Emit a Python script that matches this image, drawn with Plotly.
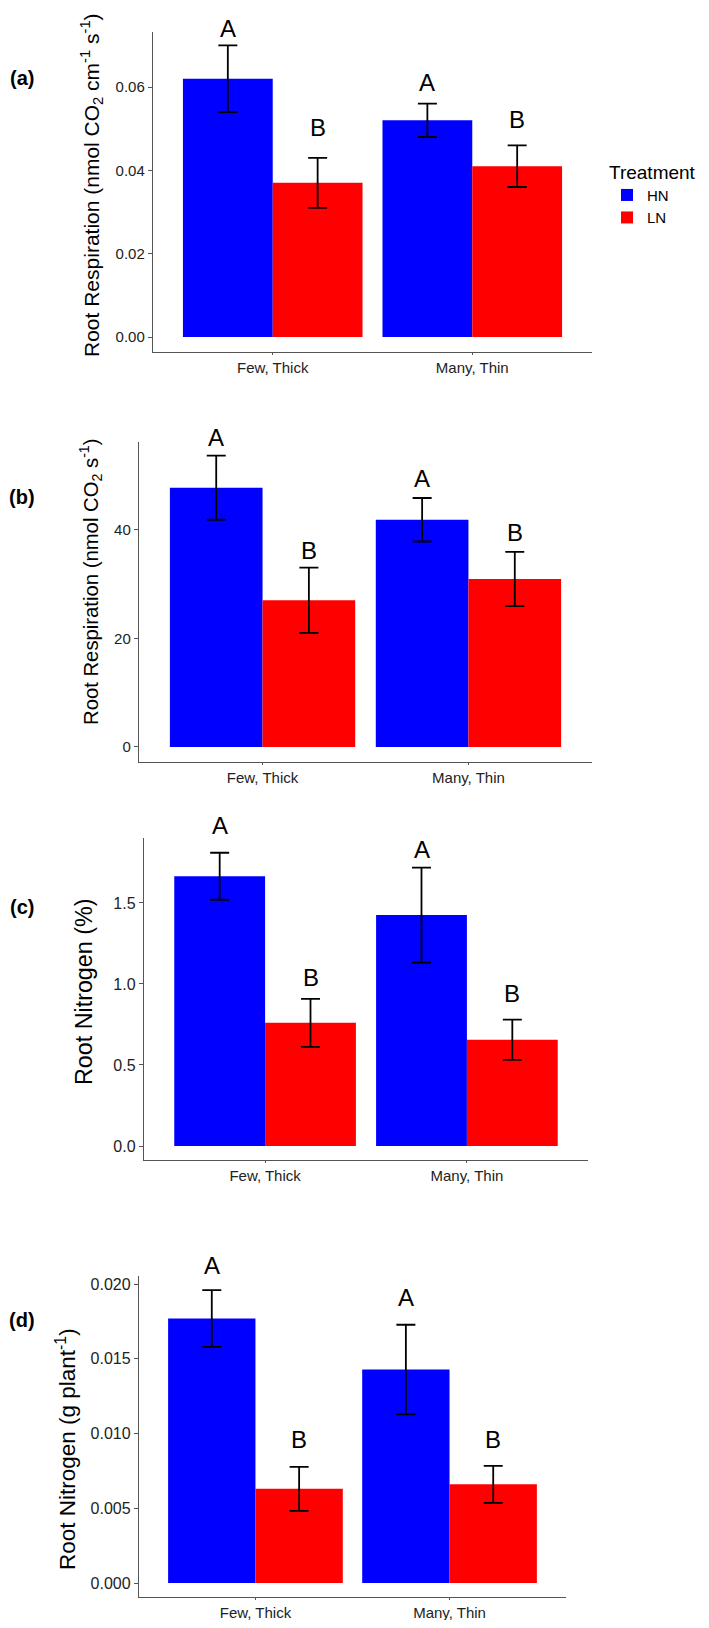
import plotly.graph_objects as go

# ---------------- data ----------------
categories = ["Few, Thick", "Many, Thin"]
treatments = ["HN", "LN"]
colors = {"HN": "#0000FF", "LN": "#FF0000"}

# (a) Root respiration per cm
a_hn = [0.062, 0.052]
a_hn_se = [0.008, 0.004]
a_ln = [0.037, 0.041]
a_ln_se = [0.006, 0.005]
a_let_hn = ["A", "A"]
a_let_ln = ["B", "B"]
a_let_hn_y = [0.0741, 0.0610]
a_let_ln_y = [0.0502, 0.0521]
a_ticks = [0.00, 0.02, 0.04, 0.06]

# (b) Root respiration
b_hn = [47.7, 41.8]
b_hn_se = [5.9, 4.0]
b_ln = [27.0, 30.9]
b_ln_se = [6.0, 5.0]
b_let_hn = ["A", "A"]
b_let_ln = ["B", "B"]
b_let_hn_y = [56.9, 49.3]
b_let_ln_y = [36.2, 39.4]
b_ticks = [0, 20, 40]

# (c) Root nitrogen %
c_hn = [1.665, 1.425]
c_hn_se = [0.145, 0.293]
c_ln = [0.76, 0.656]
c_ln_se = [0.148, 0.124]
c_let_hn = ["A", "A"]
c_let_ln = ["B", "B"]
c_let_hn_y = [1.98, 1.827]
c_let_ln_y = [1.037, 0.944]
c_ticks = [0.0, 0.5, 1.0, 1.5]

# (d) Root nitrogen per plant
d_hn = [0.0177, 0.01428]
d_hn_se = [0.0019, 0.0030]
d_ln = [0.0063, 0.0066]
d_ln_se = [0.00147, 0.00124]
d_let_hn = ["A", "A"]
d_let_ln = ["B", "B"]
d_let_hn_y = [0.02127, 0.01913]
d_let_ln_y = [0.00957, 0.00957]
d_ticks = [0.000, 0.005, 0.010, 0.015, 0.020]

panel_labels = ["(a)", "(b)", "(c)", "(d)"]
y_titles = [
    "Root Respiration (nmol CO<sub>2</sub> cm<sup>-1</sup> s<sup>-1</sup>)",
    "Root Respiration (nmol CO<sub>2</sub> s<sup>-1</sup>)",
    "Root Nitrogen (%)",
    "Root Nitrogen (g plant<sup>-1</sup>)",
]

# ---------------- layout geometry ----------------
# the page body has an 8px margin; figure is sized to fit inside the window
OFF = 8
FW, FH = 701, 1612
FONT = "Liberation Sans, Arial, sans-serif"


def px_x(X):
    return (X - OFF) / FW


def px_y(Y):
    return 1 - (Y - OFF) / FH


panels = [
    dict(hn=a_hn, hn_se=a_hn_se, ln=a_ln, ln_se=a_ln_se,
         lh=a_let_hn, ll=a_let_ln, lhy=a_let_hn_y, lly=a_let_ln_y,
         ticks=a_ticks, fmt="{:.2f}", x_px=(153, 592), y_px=(32, 352),
         yr=(-0.0036, 0.0732), title_xy=(92, 185), title_size=21,
         lab_y=78, tick_size=15),
    dict(hn=b_hn, hn_se=b_hn_se, ln=b_ln, ln_se=b_ln_se,
         lh=b_let_hn, ll=b_let_ln, lhy=b_let_hn_y, lly=b_let_ln_y,
         ticks=b_ticks, fmt="{:.0f}", x_px=(139, 592), y_px=(442, 762),
         yr=(-2.76, 56.1), title_xy=(90, 582), title_size=20.3,
         lab_y=497, tick_size=15),
    dict(hn=c_hn, hn_se=c_hn_se, ln=c_ln, ln_se=c_ln_se,
         lh=c_let_hn, ll=c_let_ln, lhy=c_let_hn_y, lly=c_let_ln_y,
         ticks=c_ticks, fmt="{:.1f}", x_px=(144, 588), y_px=(838, 1160),
         yr=(-0.0864, 1.901), title_xy=(84, 992), title_size=23.3,
         lab_y=907, tick_size=16),
    dict(hn=d_hn, hn_se=d_hn_se, ln=d_ln, ln_se=d_ln_se,
         lh=d_let_hn, ll=d_let_ln, lhy=d_let_hn_y, lly=d_let_ln_y,
         ticks=d_ticks, fmt="{:.3f}", x_px=(139, 566), y_px=(1276, 1597),
         yr=(-0.000936, 0.02054), title_xy=(66, 1449), title_size=22.5,
         lab_y=1320, tick_size=16),
]

xpos = list(range(len(categories)))

fig = go.Figure()
annotations = []
layout_axes = {}

for i, p in enumerate(panels):
    n = "" if i == 0 else str(i + 1)
    xa, ya = "x" + n, "y" + n
    r0, r1 = p["yr"]
    for tr, vals, se in (("HN", p["hn"], p["hn_se"]), ("LN", p["ln"], p["ln_se"])):
        fig.add_trace(go.Bar(
            x=xpos, y=vals, name=tr, xaxis=xa, yaxis=ya,
            marker=dict(color=colors[tr], line=dict(width=0)),
            error_y=dict(type="data", array=se, visible=True,
                         color="black", thickness=1.8, width=9.5),
            legendgroup=tr, showlegend=(i == 0),
            offsetgroup=tr,
        ))
    # significance letters (may sit above the panel, so use the axis domain for y)
    for j in xpos:
        for dx, txt, yv in ((-0.225, p["lh"][j], p["lhy"][j]),
                            (0.225, p["ll"][j], p["lly"][j])):
            annotations.append(dict(x=j + dx, y=(yv - r0) / (r1 - r0),
                                    xref=xa, yref=ya + " domain",
                                    text=txt, showarrow=False,
                                    font=dict(size=24, color="black", family=FONT),
                                    xanchor="center", yanchor="middle"))
    # y title
    tx, ty = p["title_xy"]
    annotations.append(dict(x=px_x(tx), y=px_y(ty), xref="paper", yref="paper",
                            text=y_titles[i], textangle=-90, showarrow=False,
                            font=dict(size=p["title_size"], color="black", family=FONT),
                            xanchor="center", yanchor="middle"))
    # panel label
    annotations.append(dict(x=px_x(22), y=px_y(p["lab_y"]), xref="paper", yref="paper",
                            text="<b>" + panel_labels[i] + "</b>", showarrow=False,
                            font=dict(size=20, color="black", family=FONT),
                            xanchor="center", yanchor="middle"))

    x0, x1 = p["x_px"]
    y0, y1 = p["y_px"]
    axis_common = dict(showline=True, linecolor="#555555", linewidth=1.4,
                       ticks="outside", tickcolor="#555555", tickwidth=1.2,
                       showgrid=False, zeroline=False)
    layout_axes["xaxis" + n] = dict(
        domain=[px_x(x0), px_x(x1)], anchor=ya,
        range=[-0.6, len(categories) - 0.4],
        tickvals=xpos, ticktext=categories, ticklen=2,
        tickfont=dict(size=15, color="#222222", family=FONT), **axis_common)
    layout_axes["yaxis" + n] = dict(
        domain=[px_y(y1), px_y(y0)], anchor=xa, range=[r0, r1],
        tickvals=p["ticks"], ticktext=[p["fmt"].format(t) for t in p["ticks"]],
        ticklen=4,
        tickfont=dict(size=p["tick_size"], color="#222222", family=FONT), **axis_common)

fig.update_layout(
    width=FW, height=FH, autosize=False,
    margin=dict(l=0, r=0, t=0, b=0),
    paper_bgcolor="white", plot_bgcolor="white",
    barmode="group", bargap=0.1, bargroupgap=0.0,
    font=dict(family=FONT, color="black"),
    legend=dict(title=dict(text="Treatment", font=dict(size=19, color="black")),
                font=dict(size=15, color="black"),
                x=px_x(607), xanchor="left", y=px_y(154), yanchor="top",
                bgcolor="rgba(0,0,0,0)", tracegroupgap=0),
    annotations=annotations,
    **layout_axes,
)

fig.write_html("out.html")
